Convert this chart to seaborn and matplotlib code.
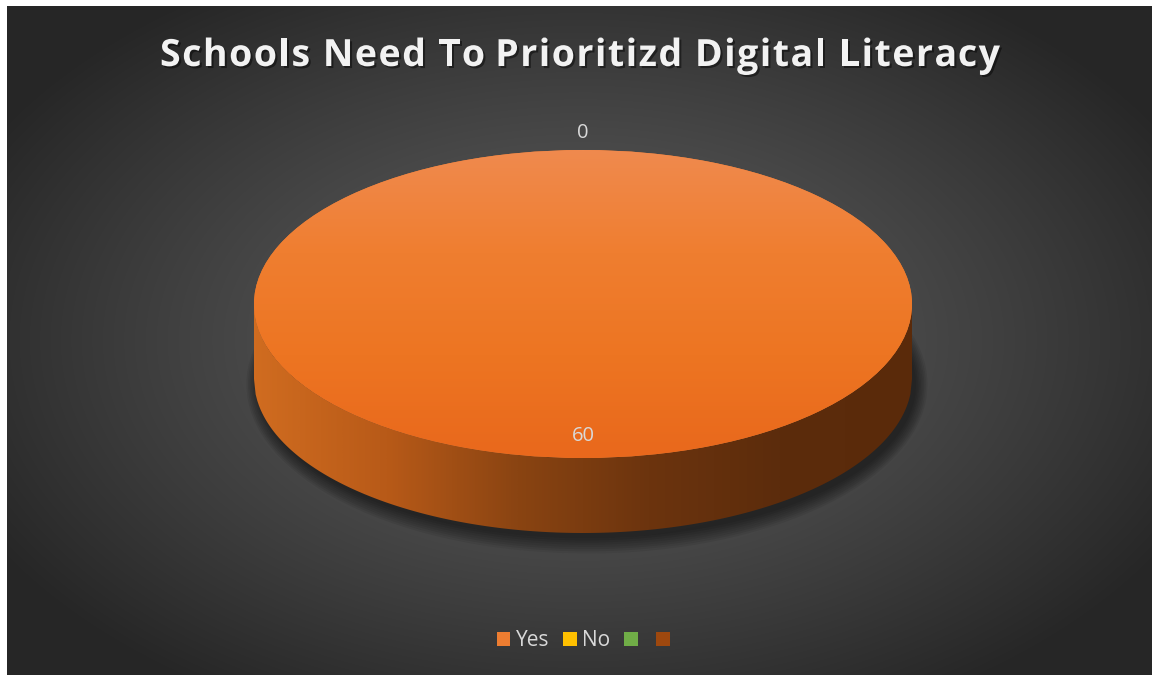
import numpy as np
import matplotlib
matplotlib.use("Agg")
import matplotlib.pyplot as plt
import matplotlib.patheffects as pe
import seaborn as sns
from matplotlib.patches import Ellipse, Polygon, Patch
from matplotlib.colors import LinearSegmentedColormap
from matplotlib.textpath import TextToPath
from matplotlib.font_manager import FontProperties

# ---- data ----
categories = ["Yes", "No", "", ""]
values = [60, 0, 0, 0]
colors = ["#ED7D31", "#FFC000", "#70AD47", "#9E480E"]
title = "Schools Need To Prioritizd Digital Literacy"

sns.set_theme(style="white")
plt.rcParams['font.family'] = ['Open Sans', 'DejaVu Sans']

W, H = 1152, 675
fig = plt.figure(figsize=(W / 100, H / 100), dpi=100, facecolor="white")

# ---- background (radial gradient, white border top/left) ----
bg = fig.add_axes([0, 0, 1, 1], zorder=0)
bg.set_axis_off()
yy, xx = np.mgrid[0:H, 0:W]
r = np.sqrt(((xx - 580) / 680.0) ** 2 + ((yy - 340) / 420.0) ** 2)
v = (0x5e - (0x5e - 0x26) * np.clip(r, 0, 1) ** 1.25) / 255.0
img = np.dstack([v, v, v])
img[:6, :, :] = 1.0
img[:, :7, :] = 1.0
bg.imshow(img, extent=[0, W, H, 0], aspect='auto', interpolation='bilinear')
bg.set_xlim(0, W)
bg.set_ylim(H, 0)

# ---- main axes: pie geometry ----
cx, cy, rx, ry = 583, 304, 329, 154
depth = 75 / ry
ax = fig.add_axes([0, 0, 1, 1], zorder=1)
ax.patch.set_alpha(0)

wedges, _ = ax.pie(values, colors=colors, startangle=90, counterclock=False,
                   radius=1, center=(0, 0), wedgeprops=dict(linewidth=0))
ax.set_aspect('auto')
xlim = ((0 - cx) / rx, (W - cx) / rx)
ylim = ((cy - H) / ry, cy / ry)

# shadow below cylinder (tight, soft)
for i in range(8):
    gx = i * 0.005
    gy = i * 0.014
    e = Ellipse((0.012, -depth - 0.035), 2 * (1.0 + gx), 2 * (1.0 + gy),
                facecolor='black', alpha=0.07, lw=0, zorder=0.5)
    ax.add_patch(e)

# side of cylinder
xs = np.linspace(-1, 1, 400)
top_arc = -np.sqrt(np.clip(1 - xs ** 2, 0, 1))
side_pts = np.vstack([np.column_stack([xs, top_arc]),
                      np.column_stack([xs[::-1], top_arc[::-1] - depth])])
side_poly = Polygon(side_pts, closed=True, facecolor='none', lw=0, zorder=1)
ax.add_patch(side_poly)
side_cmap = LinearSegmentedColormap.from_list(
    "side", ["#D06C20", "#B85A18", "#8A4412", "#6C340E", "#5C2C0C", "#5A2A0A"])
grad = np.linspace(0, 1, 512).reshape(1, -1)
side_im = ax.imshow(grad, cmap=side_cmap, extent=[-1, 1, -1 - depth, 0],
                    aspect='auto', zorder=1.2, interpolation='bilinear')
side_im.set_clip_path(side_poly)

# top face gradient (clipped to the pie wedge)
for w in wedges:
    w.set_zorder(2)
top_cmap = LinearSegmentedColormap.from_list(
    "top", ["#E9681C", "#ED7522", "#EF7E30", "#F08A4E"])
tg = np.linspace(0, 1, 256).reshape(-1, 1)
top_im = ax.imshow(tg, cmap=top_cmap, extent=[-1, 1, -1, 1], origin='lower',
                   aspect='auto', zorder=2.5, interpolation='bilinear')
top_im.set_clip_path(wedges[0])

# data labels
for w, cat, val in zip(wedges, categories, values):
    if cat == "":
        continue
    mid = np.deg2rad((w.theta1 + w.theta2) / 2.0)
    dist = 0.86 if val > 0 else 1.11
    ax.text(dist * np.cos(mid), dist * np.sin(mid), f"{val}", ha='center',
            va='center', fontsize=14.5, color='#D9D9D9', zorder=4)

ax.set_xlim(*xlim)
ax.set_ylim(*ylim)
ax.set_axis_off()

# title with letter spacing (placed character by character)
tfs = 27
tprop = FontProperties(family=['Open Sans', 'DejaVu Sans'], weight='bold', size=tfs)
t2p = TextToPath()
def width_px(s):
    if not s:
        return 0.0
    w, h, d = t2p.get_text_width_height_descent(s, tprop, ismath=False)
    return w * 100 / 72.0
natural = width_px(title)
target_w = 840.0
spacing = max(0.0, (target_w - natural) / (len(title) - 1))
total_w = natural + spacing * (len(title) - 1)
x0 = 580 - total_w / 2
shadow = [pe.withSimplePatchShadow(offset=(1.5, -1.5), shadow_rgbFace='black', alpha=0.45)]
for i, ch in enumerate(title):
    if ch == " ":
        continue
    xpos = x0 + width_px(title[:i]) + spacing * i
    fig.text(xpos / W, 1 - 56 / H, ch, ha='left', va='center', fontproperties=tprop,
             color='#F2F2F2', zorder=5, path_effects=shadow)

# legend
handles = [Patch(facecolor=c, edgecolor='none') for c in colors]
leg = fig.legend(handles, categories, loc='center', ncol=4,
                 bbox_to_anchor=(586 / W, 1 - 641 / H), frameon=False,
                 fontsize=15, handlelength=0.67, handleheight=0.67,
                 handletextpad=0.25, columnspacing=0.65, labelcolor='#D9D9D9')

fig.savefig("out.png", dpi=100, facecolor=fig.get_facecolor())
